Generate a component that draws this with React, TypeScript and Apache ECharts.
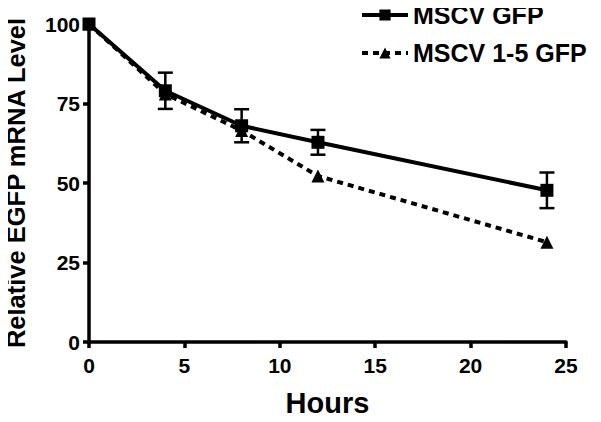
import React, { useEffect, useRef } from "react";
import * as echarts from "echarts";

const hours = [0, 4, 8, 12, 24];
const gfpValues = [100, 79, 68, 62.8, 47.7];
const gfpErr = [0, 5.7, 5.2, 3.9, 5.6];
const mutValues = [100, 78, 66.5, 52.2, 31.4];
const xTicks = [0, 5, 10, 15, 20, 25];
const yTicks = [0, 25, 50, 75, 100];

const FONT = "'Liberation Sans', Arial, sans-serif";

export default function App() {
  const ref = useRef<HTMLDivElement>(null);
  useEffect(() => {
    if (!ref.current) return;
    const chart = echarts.init(ref.current, null, { renderer: "svg" });
    const errData = hours.map((h, i) => [h, gfpValues[i] - gfpErr[i], gfpValues[i] + gfpErr[i]]);
    chart.setOption({
      animation: false,
      backgroundColor: "#fff",
      grid: { left: 89, right: 35, top: 24, bottom: 80, containLabel: false, outerBoundsMode: "none" },
      legend: {
        left: 360,
        top: 2,
        padding: 0,
        orient: "vertical",
        itemWidth: 46,
        itemHeight: 14,
        itemGap: 12,
        lineStyle: { width: 4 },
        textStyle: { fontFamily: FONT, fontWeight: "bold", fontSize: 25, lineHeight: 26, color: "#000" },
        data: ["MSCV GFP", "MSCV 1-5 GFP"],
      },
      xAxis: {
        type: "value",
        min: 0,
        max: 25,
        interval: 5,
        name: "Hours",
        nameLocation: "middle",
        nameGap: 46,
        nameTextStyle: { fontFamily: FONT, fontWeight: "bold", fontSize: 29, color: "#000" },
        axisLine: { show: true, lineStyle: { color: "#000", width: 3.5 } },
        axisTick: { show: true, length: 6, lineStyle: { color: "#000", width: 3.5 } },
        axisLabel: {
          fontFamily: FONT, fontWeight: "bold", fontSize: 21, color: "#000", margin: 13,
          formatter: (v: number) => (xTicks.includes(v) ? String(v) : ""),
        },
        splitLine: { show: false },
      },
      yAxis: {
        type: "value",
        min: 0,
        max: 100,
        interval: 25,
        name: "Relative EGFP mRNA Level",
        nameLocation: "middle",
        nameGap: 60,
        nameTextStyle: { fontFamily: FONT, fontWeight: "bold", fontSize: 25.5, color: "#000" },
        axisLine: { show: true, lineStyle: { color: "#000", width: 3.5 } },
        axisTick: { show: true, length: 6, lineStyle: { color: "#000", width: 3.5 } },
        axisLabel: {
          fontFamily: FONT, fontWeight: "bold", fontSize: 21, color: "#000", margin: 9,
          formatter: (v: number) => (yTicks.includes(v) ? String(v) : ""),
        },
        splitLine: { show: false },
      },
      series: [
        {
          name: "MSCV 1-5 GFP",
          type: "line",
          data: hours.map((h, i) => [h, mutValues[i]]),
          symbol: "triangle",
          symbolSize: 13,
          itemStyle: { color: "#000" },
          lineStyle: { color: "#000", width: 4, type: [6, 5] },
          z: 2,
        },
        {
          name: "MSCV GFP",
          type: "line",
          data: hours.map((h, i) => [h, gfpValues[i]]),
          symbol: "rect",
          symbolSize: 13,
          itemStyle: { color: "#000" },
          lineStyle: { color: "#000", width: 4 },
          z: 3,
        },
        {
          name: "err",
          type: "custom",
          data: errData,
          z: 4,
          renderItem: (params: any, api: any) => {
            const x = api.value(0);
            const lo = api.coord([x, api.value(1)]);
            const hi = api.coord([x, api.value(2)]);
            const w = 7.5;
            if (Math.abs(lo[1] - hi[1]) < 1) return { type: "group", children: [] };
            const style = { stroke: "#000", lineWidth: 2.5 };
            return {
              type: "group",
              children: [
                { type: "line", shape: { x1: lo[0], y1: lo[1], x2: hi[0], y2: hi[1] }, style },
                { type: "line", shape: { x1: lo[0] - w, y1: lo[1], x2: lo[0] + w, y2: lo[1] }, style },
                { type: "line", shape: { x1: hi[0] - w, y1: hi[1], x2: hi[0] + w, y2: hi[1] }, style },
              ],
            };
          },
        },
      ],
    });
    return () => chart.dispose();
  }, []);
  return <div ref={ref} style={{ width: 601, height: 422, margin: -8 }} />;
}
